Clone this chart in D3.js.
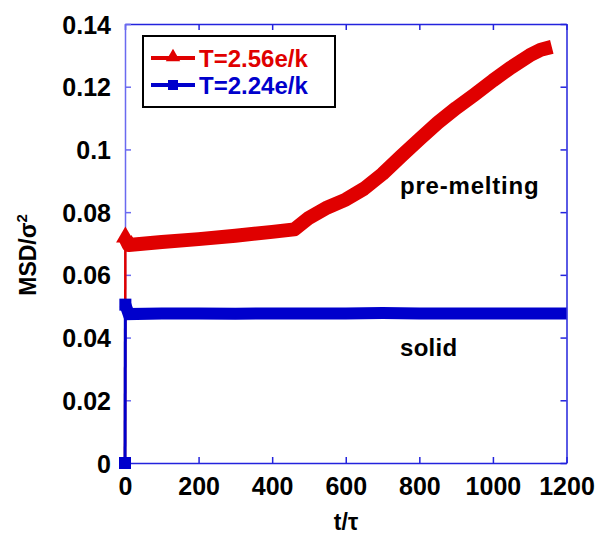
<!DOCTYPE html>
<html>
<head>
  <meta charset="utf-8">
  <script src="https://d3js.org/d3.v7.min.js"></script>
  <style>
    body { margin: 0; background: #fff; }
    text { font-family: "Liberation Sans", Arial, sans-serif; font-weight: bold; }
  </style>
</head>
<body>
  <div id="chart"></div>
  <script>
    // data
    var redT   = [0, 1, 10, 100, 200, 300, 400, 460, 500, 550, 600, 650, 700, 750, 800, 850, 900, 950, 1000, 1050, 1100, 1130, 1160];
    var redMSD = [0, 0.0717, 0.0695, 0.0705, 0.0714, 0.0725, 0.0737, 0.0745, 0.0782, 0.0815, 0.0840, 0.0875, 0.0922, 0.0978, 0.1032, 0.1085, 0.1132, 0.1175, 0.1220, 0.1262, 0.1300, 0.1318, 0.1327];
    var blueT   = [0, 1, 10, 100, 200, 300, 400, 500, 600, 700, 800, 900, 1000, 1100, 1200];
    var blueMSD = [0, 0.0505, 0.0475, 0.0477, 0.0477, 0.0476, 0.0477, 0.0477, 0.0477, 0.0478, 0.0477, 0.0477, 0.0477, 0.0477, 0.0477];
    var xTicks = [0, 200, 400, 600, 800, 1000, 1200];
    var yTicks = [0, 0.02, 0.04, 0.06, 0.08, 0.1, 0.12, 0.14];
    var seriesNames = ["T=2.56e/k", "T=2.24e/k"];

    var W = 599, H = 535;
    var margin = { top: 24, right: 32.5, bottom: 72, left: 125 },
      width = W - margin.left - margin.right,
      height = H - margin.top - margin.bottom;

    var svg = d3.select("#chart").append("svg")
      .attr("width", W).attr("height", H);
    var g = svg.append("g")
      .attr("transform", "translate(" + margin.left + "," + margin.top + ")");

    var x = d3.scaleLinear().domain([0, 1200]).range([0, width]);
    var y = d3.scaleLinear().domain([0, 0.14]).range([height, 0]);

    var axisCol = "#2323dd", leftCol = "#6a6af0";
    var fmtY = function (d) { return d === 0 ? "0" : String(+d.toFixed(2)); };

    // bottom + top axes, ticks point inward on every side
    var xb = g.append("g").attr("transform", "translate(0," + height + ")")
      .call(d3.axisBottom(x).tickValues(xTicks).tickSizeInner(-6).tickSizeOuter(0).tickPadding(14).tickFormat(d3.format("d")));
    var xt = g.append("g")
      .call(d3.axisTop(x).tickValues(xTicks).tickSizeInner(-6).tickSizeOuter(0).tickFormat(""));
    var yl = g.append("g")
      .call(d3.axisLeft(y).tickValues(yTicks).tickSizeInner(-6).tickSizeOuter(0).tickPadding(14).tickFormat(fmtY));
    var yr = g.append("g").attr("transform", "translate(" + width + ",0)")
      .call(d3.axisRight(y).tickValues(yTicks).tickSizeInner(-6).tickSizeOuter(0).tickFormat(""));

    [xb, xt, yr].forEach(function (a) {
      a.selectAll("path, line").attr("stroke", axisCol).attr("stroke-width", 1.5);
    });
    yl.selectAll("path, line").attr("stroke", leftCol).attr("stroke-width", 1.5);
    [xb, yl].forEach(function (a) {
      a.selectAll("text").attr("fill", "#000").style("font-size", "25px")
        .style("font-family", "'Liberation Sans', Arial, sans-serif").style("font-weight", "bold");
    });
    xb.selectAll("text").attr("dy", "0.71em");
    yl.selectAll("text").attr("dy", "0.36em");

    // series
    var line = d3.line().x(function (d) { return x(d[0]); }).y(function (d) { return y(d[1]); });
    var red = d3.zip(redT, redMSD), blue = d3.zip(blueT, blueMSD);

    g.append("path").datum(red.slice(0, 2)).attr("d", line)
      .attr("fill", "none").attr("stroke", "#e00000").attr("stroke-width", 2.5);
    g.append("path").datum(red.slice(1)).attr("d", line)
      .attr("fill", "none").attr("stroke", "#e00000").attr("stroke-width", 14)
      .attr("stroke-linejoin", "round");
    var tri = d3.symbol().type(d3.symbolTriangle).size(150);
    g.append("path").attr("d", tri)
      .attr("transform", "translate(" + x(redT[1]) + "," + (y(redMSD[1]) - 1) + ")").attr("fill", "#e00000");

    g.append("path").datum(blue.slice(0, 2)).attr("d", line)
      .attr("fill", "none").attr("stroke", "#0000cc").attr("stroke-width", 3);
    g.append("path").datum(blue.slice(1)).attr("d", line)
      .attr("fill", "none").attr("stroke", "#0000cc").attr("stroke-width", 12);
    [0, 1].forEach(function (i) {
      g.append("rect").attr("x", x(blueT[i]) - 6).attr("y", y(blueMSD[i]) - 6)
        .attr("width", 12).attr("height", 12).attr("fill", "#0000cc");
    });

    // legend
    var leg = svg.append("g").attr("transform", "translate(143,36)");
    leg.append("rect").attr("width", 192).attr("height", 71)
      .attr("fill", "#fff").attr("stroke", "#000").attr("stroke-width", 2);
    var legCols = ["#e00000", "#0000cc"];
    seriesNames.forEach(function (name, i) {
      var ly = 22 + i * 27;
      leg.append("line").attr("x1", 8).attr("x2", 52).attr("y1", ly).attr("y2", ly)
        .attr("stroke", legCols[i]).attr("stroke-width", 4);
      if (i === 0) {
        leg.append("path").attr("d", d3.symbol().type(d3.symbolTriangle).size(90))
          .attr("transform", "translate(30," + (ly - 1) + ")").attr("fill", legCols[i]);
      } else {
        leg.append("rect").attr("x", 25).attr("y", ly - 5).attr("width", 10).attr("height", 10)
          .attr("fill", legCols[i]);
      }
      leg.append("text").attr("x", 56).attr("y", ly + 8.5).attr("fill", legCols[i])
        .style("font-size", "24px").text(name);
    });

    // annotations
    svg.append("text").attr("x", 400).attr("y", 194).style("font-size", "24px")
      .style("letter-spacing", "0.8px").text("pre-melting");
    svg.append("text").attr("x", 400).attr("y", 356).style("font-size", "24px")
      .style("letter-spacing", "0.3px").text("solid");

    // axis titles
    svg.append("text").attr("x", 346).attr("y", 530).attr("text-anchor", "middle")
      .style("font-size", "23px").text("t/τ");
    var yt = svg.append("text").attr("transform", "translate(36,255) rotate(-90)")
      .attr("text-anchor", "middle").style("font-size", "23px");
    yt.append("tspan").text("MSD/σ");
    yt.append("tspan").attr("dy", "-9").style("font-size", "15px").text("2");
  </script>
</body>
</html>
